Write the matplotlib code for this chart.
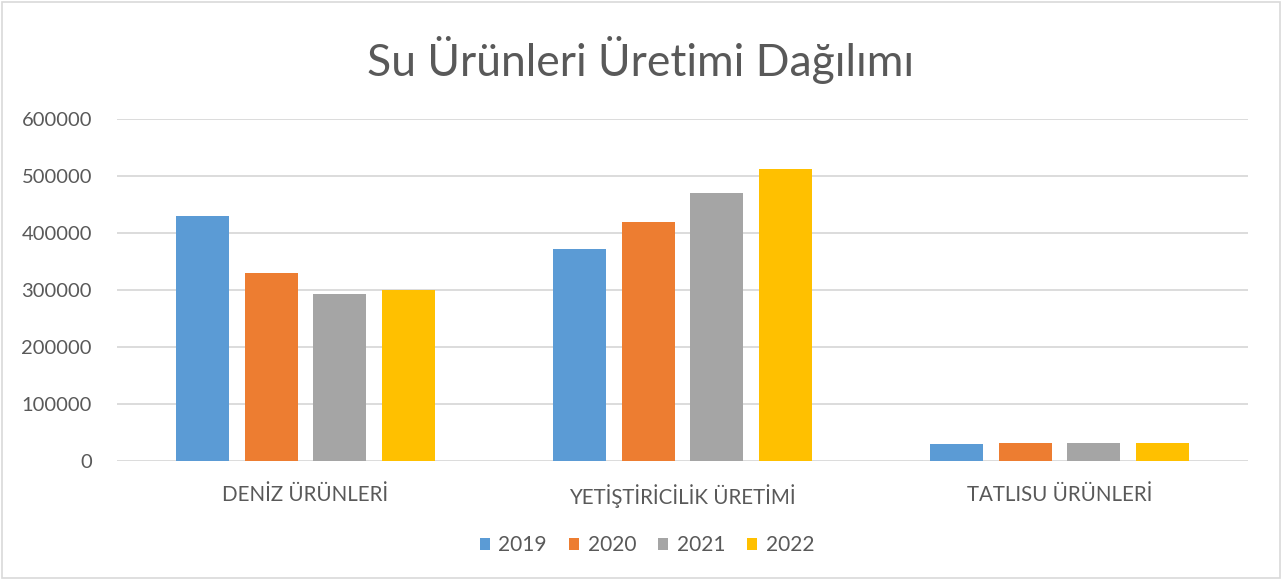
import matplotlib
matplotlib.use("Agg")
import matplotlib.pyplot as plt
import numpy as np
from matplotlib.patches import Rectangle

categories = ["DENİZ ÜRÜNLERİ", "YETİŞTİRİCİLİK ÜRETİMİ", "TATLISU ÜRÜNLERİ"]
years = ["2019", "2020", "2021", "2022"]
v2019 = [430000, 372000, 29800]
v2020 = [330000, 420000, 30900]
v2021 = [293500, 470000, 31500]
v2022 = [300500, 513000, 32000]
series = [v2019, v2020, v2021, v2022]
colors = ["#5B9BD5", "#ED7D31", "#A5A5A5", "#FFC000"]
yticks = [0, 100000, 200000, 300000, 400000, 500000, 600000]

plt.rcParams['font.family'] = ['Lato', 'DejaVu Sans']
txt = "#595959"

fig = plt.figure(figsize=(12.82, 5.79), dpi=100)
ax = fig.add_axes([117/1282, 1-461/579, (1248-117)/1282, 342/579])

x = np.arange(len(categories))
w = 0.1406
step = 0.1817
for i, (vals, c, yr) in enumerate(zip(series, colors, years)):
    ax.bar(x + (i - 1.5) * step, vals, width=w, color=c, label=yr, zorder=3)

ax.set_xlim(-0.5, 2.5)
ax.set_ylim(0, 600000)
ax.set_yticks(yticks)
ax.set_yticklabels([str(t) for t in yticks])
ax.set_xticks(x)
ax.set_xticklabels(categories)
ax.grid(axis='y', color="#D9D9D9", linewidth=1.3, zorder=0)
for s in ax.spines.values():
    s.set_visible(False)
ax.tick_params(axis='both', length=0, colors=txt)
ax.tick_params(axis='y', pad=18, labelsize=14.5)
ax.tick_params(axis='x', pad=17, labelsize=14.8)

fig.text(0.5, 1-60/579, "Su Ürünleri Üretimi Dağılımı", ha='center', va='center',
         fontsize=32, color=txt)

leg = fig.legend(loc='center', bbox_to_anchor=(647/1282, 1-545/579), ncol=4,
                 frameon=False, fontsize=15, handlelength=0.5, handleheight=0.5,
                 handletextpad=0.4, columnspacing=1.05, labelcolor=txt)

fig.patches.append(Rectangle((2/1282, 1/579), 1-4/1282, 1-3/579, transform=fig.transFigure,
                             fill=False, edgecolor="#D9D9D9", linewidth=1.2))

fig.savefig("out.png", dpi=100)
